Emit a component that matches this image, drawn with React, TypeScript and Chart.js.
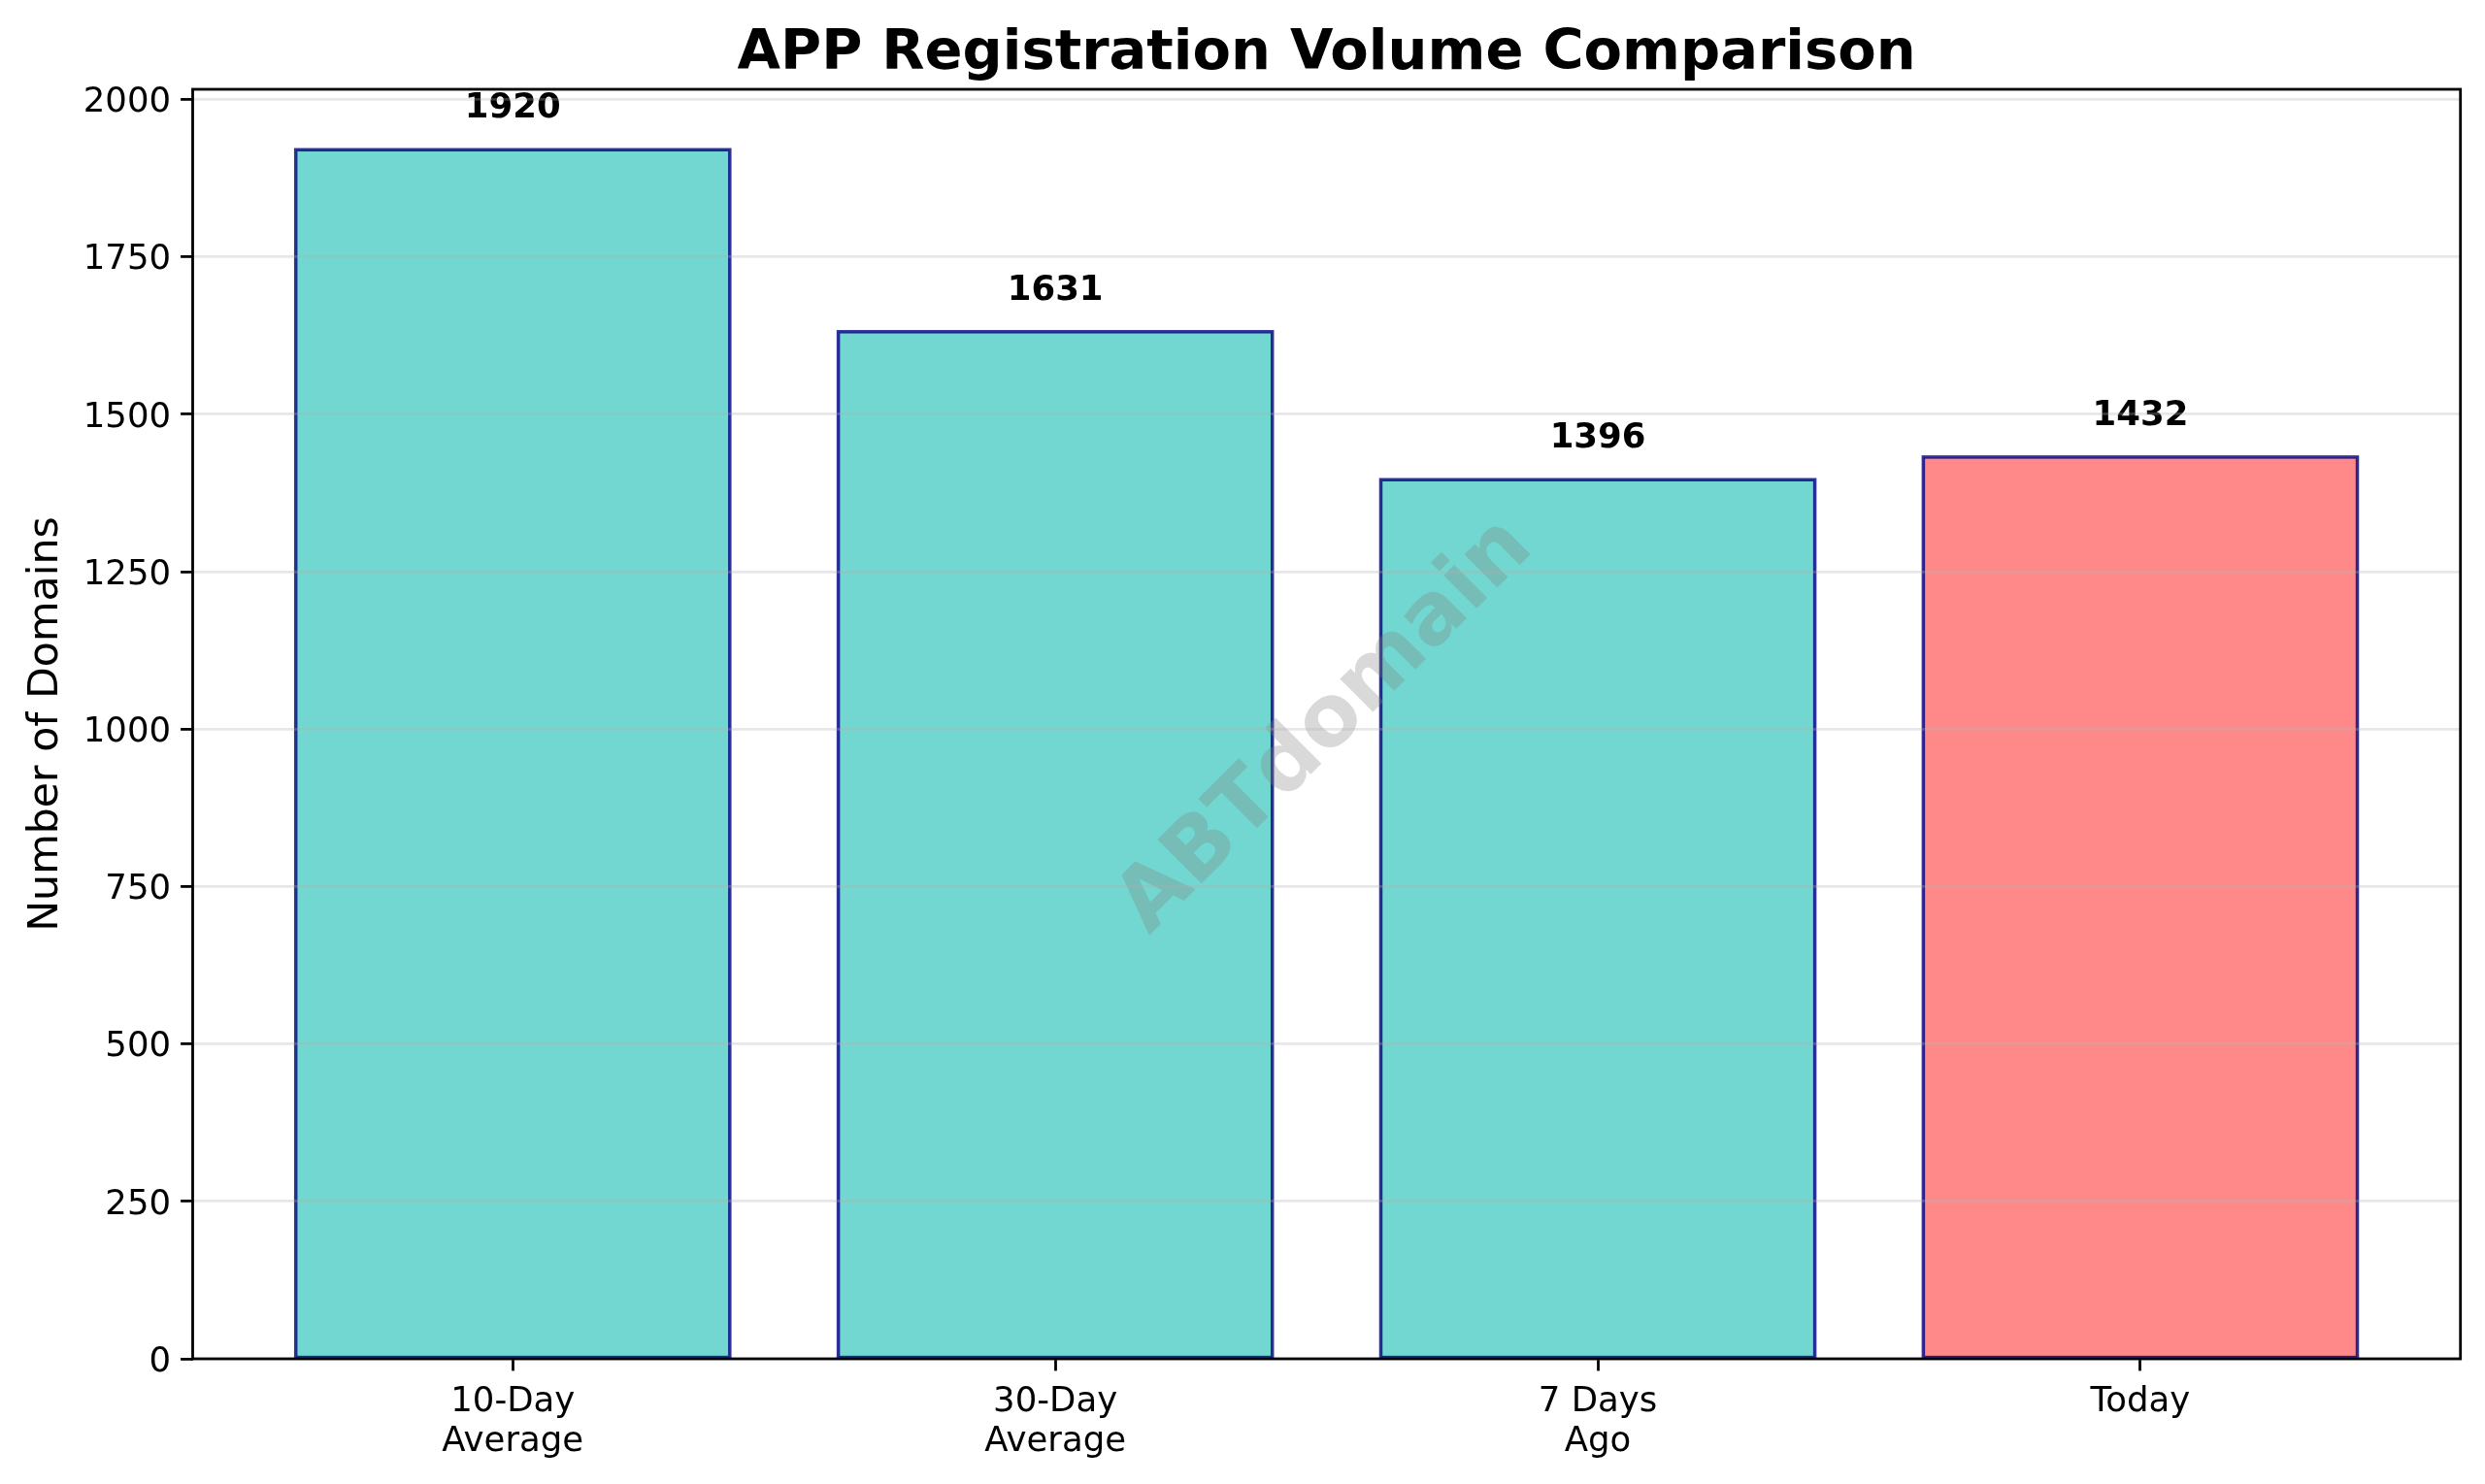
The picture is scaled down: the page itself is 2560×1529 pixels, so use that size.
import { useEffect, useRef } from 'react';
import { Chart, registerables } from 'chart.js';
import type { Plugin, Scale } from 'chart.js';

Chart.register(...registerables);

const categories = [['10-Day', 'Average'], ['30-Day', 'Average'], ['7 Days', 'Ago'], ['Today']];
const positions = [0, 1, 2, 3];
const values = [1920, 1631, 1396, 1432];
const barColors = ['rgba(78,205,196,0.8)', 'rgba(78,205,196,0.8)', 'rgba(78,205,196,0.8)', 'rgba(255,107,107,0.8)'];
const yTicks = [0, 250, 500, 750, 1000, 1250, 1500, 1750, 2000];

const FONT = '"DejaVu Sans"';
const WIDTH = 2560;
const HEIGHT = 1529;

// bar outlines (centred on the edge, Chart.js would draw them inside), watermark, value labels
const overlay: Plugin<'bar'> = {
  id: 'overlay',
  afterDatasetsDraw(chart) {
    const { ctx, chartArea } = chart;
    const bars = chart.getDatasetMeta(0).data;

    ctx.save();
    ctx.strokeStyle = 'rgba(0,0,128,0.8)';
    ctx.lineWidth = 3.5;
    bars.forEach((bar) => {
      const { x, y, base, width } = bar.getProps(['x', 'y', 'base', 'width']) as unknown as Record<string, number>;
      ctx.strokeRect(x - width / 2, y, width, base - y);
    });
    ctx.restore();

    ctx.save();
    ctx.translate((chartArea.left + chartArea.right) / 2, (chartArea.top + chartArea.bottom) / 2 + 3);
    ctx.rotate(-Math.PI / 4);
    ctx.font = `bold 88px ${FONT}`;
    ctx.fillStyle = 'rgba(128,128,128,0.3)';
    ctx.textAlign = 'center';
    ctx.textBaseline = 'middle';
    ctx.fillText('ABTdomain', 0, 0);
    ctx.restore();

    ctx.save();
    ctx.font = `bold 35.5px ${FONT}`;
    ctx.fillStyle = '#000';
    ctx.textAlign = 'center';
    ctx.textBaseline = 'alphabetic';
    bars.forEach((bar, i) => {
      ctx.fillText(String(values[i]), bar.x, bar.y - 33);
    });
    ctx.restore();
  },
  afterDraw(chart) {
    const { ctx, chartArea } = chart;
    ctx.save();
    ctx.strokeStyle = '#000';
    ctx.lineWidth = 2.8;
    ctx.strokeRect(chartArea.left, chartArea.top, chartArea.right - chartArea.left, chartArea.bottom - chartArea.top);
    ctx.restore();
  },
};

export default function App() {
  const canvasRef = useRef<HTMLCanvasElement | null>(null);

  useEffect(() => {
    const el = canvasRef.current;
    if (!el) return;

    const chart = new Chart(el, {
      type: 'bar',
      data: {
        datasets: [
          {
            data: positions.map((x, i) => ({ x, y: values[i] })),
            backgroundColor: barColors,
            borderWidth: 0,
            inflateAmount: 0,
            barPercentage: 0.8,
            categoryPercentage: 1,
          },
        ],
      },
      options: {
        responsive: false,
        animation: false,
        devicePixelRatio: 1,
        layout: { padding: { left: 0, right: 25.3, top: 0, bottom: 0 } },
        plugins: {
          legend: { display: false },
          tooltip: { enabled: false },
          title: {
            display: true,
            text: 'APP Registration Volume Comparison',
            color: '#000',
            fullSize: false,
            font: { family: FONT, size: 57.5, weight: 'bold' },
            padding: { top: 22, bottom: 1 },
          },
        },
        scales: {
          x: {
            type: 'linear',
            offset: false,
            min: -0.59,
            max: 3.59,
            afterBuildTicks: (s: Scale) => {
              s.ticks = positions.map((value) => ({ value }));
            },
            afterFit: (s: Scale) => {
              s.height = HEIGHT - 1400;
            },
            border: { display: false },
            grid: { offset: false, drawOnChartArea: false, drawTicks: true, tickLength: 12.4, tickColor: '#000', tickWidth: 2.8 },
            ticks: {
              color: '#000',
              padding: 11.5,
              autoSkip: false,
              maxRotation: 0,
              font: { family: FONT, size: 35.5, lineHeight: 1.17 },
              callback: (v) => categories[Number(v)],
            },
          },
          y: {
            min: 0,
            max: 2016,
            afterBuildTicks: (s: Scale) => {
              s.ticks = yTicks.map((value) => ({ value }));
            },
            afterFit: (s: Scale) => {
              s.width = 198.5;
            },
            border: { display: false },
            grid: {
              z: 1,
              color: 'rgba(176,176,176,0.3)',
              lineWidth: 2.8,
              tickLength: 12.4,
              tickColor: '#000',
              tickWidth: 2.8,
            },
            ticks: {
              color: '#000',
              padding: 10,
              labelOffset: 3.5,
              font: { family: FONT, size: 35.5 },
              callback: (v) => String(v),
            },
            title: {
              display: true,
              text: 'Number of Domains',
              color: '#000',
              font: { family: FONT, size: 42.7 },
              padding: { top: 22, bottom: 0 },
            },
          },
        },
      },
      plugins: [overlay],
    });

    return () => {
      chart.destroy();
    };
  }, []);

  return (
    <div style={{ position: 'absolute', left: 0, top: 0, width: WIDTH, height: HEIGHT, background: '#fff' }}>
      <canvas ref={canvasRef} width={WIDTH} height={HEIGHT} style={{ display: 'block' }} />
    </div>
  );
}
